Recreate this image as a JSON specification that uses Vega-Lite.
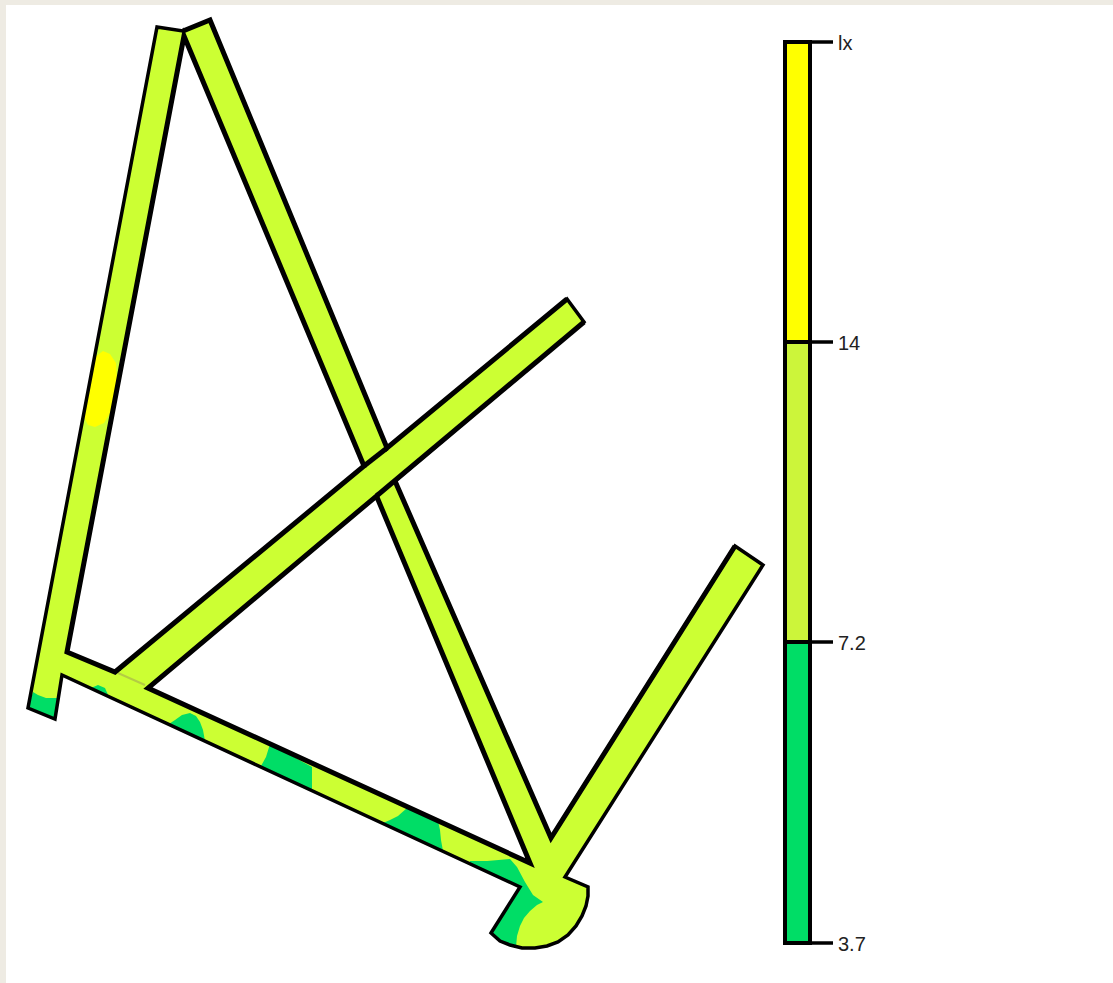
{
"$schema":"https://vega.github.io/schema/vega-lite/v6.json",
"width":1113,"height":983,"padding":0,
"autosize":{"type":"fit","contains":"padding"},
"background":"#eeebe3",
"config":{"view":{"stroke":null}},
"datasets":{
"page":[{"x":6,"x2":1113,"y":5,"y2":983}],
"outer":[
{"i":1,"x":157,"y":27},{"i":2,"x":183,"y":31},{"i":3,"x":210,"y":20},{"i":4,"x":387,"y":448},{"i":5,"x":567,"y":299},{"i":6,"x":584,"y":322},{"i":7,"x":395,"y":481},{"i":8,"x":551,"y":838},{"i":9,"x":735,"y":546},{"i":10,"x":763,"y":565},{"i":11,"x":565,"y":877},{"i":12,"x":588,"y":887},{"i":13,"x":588,"y":896},{"i":14,"x":586,"y":906},{"i":15,"x":582,"y":916},{"i":16,"x":576,"y":926},{"i":17,"x":568,"y":935},{"i":18,"x":558,"y":942},{"i":19,"x":547,"y":946},{"i":20,"x":535,"y":948},{"i":21,"x":522,"y":948},{"i":22,"x":510,"y":945},{"i":23,"x":500,"y":941},{"i":24,"x":491,"y":933},{"i":25,"x":520,"y":887},{"i":26,"x":62,"y":675},{"i":27,"x":55,"y":719},{"i":28,"x":28,"y":708}
],
"holes":[
{"part":"h1","i":1,"x":184,"y":36},{"part":"h1","i":2,"x":364,"y":466},{"part":"h1","i":3,"x":115,"y":672},{"part":"h1","i":4,"x":67,"y":652},
{"part":"h2","i":1,"x":376.5,"y":496},{"part":"h2","i":2,"x":530,"y":863},{"part":"h2","i":3,"x":148,"y":688}
],
"edges":[
{"part":"e1","i":1,"x":183,"y":31},{"part":"e1","i":2,"x":210,"y":20},{"part":"e1","i":3,"x":387,"y":448},{"part":"e1","i":4,"x":567,"y":299},
{"part":"e2","i":1,"x":364,"y":466},{"part":"e2","i":2,"x":387,"y":448},
{"part":"e3","i":1,"x":584,"y":322},{"part":"e3","i":2,"x":376.5,"y":496},
{"part":"e4","i":1,"x":395,"y":481},{"part":"e4","i":2,"x":551,"y":838},{"part":"e4","i":3,"x":735,"y":546}
],
"patches":[
{"part":"p1","band":"low","i":1,"x":33,"y":692},{"part":"p1","band":"low","i":2,"x":38,"y":695},{"part":"p1","band":"low","i":3,"x":46,"y":698},{"part":"p1","band":"low","i":4,"x":57,"y":698},{"part":"p1","band":"low","i":5,"x":55,"y":719},{"part":"p1","band":"low","i":6,"x":28,"y":708},
{"part":"p2","band":"low","i":1,"x":91,"y":688},{"part":"p2","band":"low","i":2,"x":98,"y":685},{"part":"p2","band":"low","i":3,"x":105,"y":688},{"part":"p2","band":"low","i":4,"x":109,"y":697},
{"part":"p3","band":"low","i":1,"x":169,"y":724},{"part":"p3","band":"low","i":2,"x":175,"y":720},{"part":"p3","band":"low","i":3,"x":182,"y":715},{"part":"p3","band":"low","i":4,"x":190,"y":713},{"part":"p3","band":"low","i":5,"x":196,"y":716},{"part":"p3","band":"low","i":6,"x":200,"y":722},{"part":"p3","band":"low","i":7,"x":203,"y":730},{"part":"p3","band":"low","i":8,"x":205,"y":741},
{"part":"p4","band":"low","i":1,"x":270,"y":744},{"part":"p4","band":"low","i":2,"x":266,"y":757},{"part":"p4","band":"low","i":3,"x":261,"y":766},{"part":"p4","band":"low","i":4,"x":312,"y":790},{"part":"p4","band":"low","i":5,"x":312,"y":767},
{"part":"p5","band":"low","i":1,"x":383,"y":823},{"part":"p5","band":"low","i":2,"x":390,"y":820},{"part":"p5","band":"low","i":3,"x":398,"y":816},{"part":"p5","band":"low","i":4,"x":407,"y":808},{"part":"p5","band":"low","i":5,"x":438,"y":821},{"part":"p5","band":"low","i":6,"x":440,"y":830},{"part":"p5","band":"low","i":7,"x":441,"y":840},{"part":"p5","band":"low","i":8,"x":443,"y":851},
{"part":"p6","band":"low","i":1,"x":470,"y":861},{"part":"p6","band":"low","i":2,"x":487,"y":861},{"part":"p6","band":"low","i":3,"x":510,"y":859},{"part":"p6","band":"low","i":4,"x":517,"y":867},{"part":"p6","band":"low","i":5,"x":525,"y":882},{"part":"p6","band":"low","i":6,"x":533,"y":895},{"part":"p6","band":"low","i":7,"x":543,"y":902},{"part":"p6","band":"low","i":8,"x":537,"y":905},{"part":"p6","band":"low","i":9,"x":530,"y":911},{"part":"p6","band":"low","i":10,"x":524,"y":918},{"part":"p6","band":"low","i":11,"x":520,"y":926},{"part":"p6","band":"low","i":12,"x":517,"y":936},{"part":"p6","band":"low","i":13,"x":516,"y":947},{"part":"p6","band":"low","i":14,"x":510,"y":945},{"part":"p6","band":"low","i":15,"x":500,"y":941},{"part":"p6","band":"low","i":16,"x":491,"y":933},{"part":"p6","band":"low","i":17,"x":520,"y":887},{"part":"p6","band":"low","i":18,"x":470,"y":864},
{"part":"p7","band":"high","i":1,"x":103,"y":351},{"part":"p7","band":"high","i":2,"x":110,"y":354},{"part":"p7","band":"high","i":3,"x":116,"y":363},{"part":"p7","band":"high","i":4,"x":117,"y":380},{"part":"p7","band":"high","i":5,"x":114,"y":397},{"part":"p7","band":"high","i":6,"x":110,"y":413},{"part":"p7","band":"high","i":7,"x":104,"y":423},{"part":"p7","band":"high","i":8,"x":95,"y":427},{"part":"p7","band":"high","i":9,"x":88,"y":425},{"part":"p7","band":"high","i":10,"x":84,"y":417},{"part":"p7","band":"high","i":11,"x":87,"y":397},{"part":"p7","band":"high","i":12,"x":92,"y":370},{"part":"p7","band":"high","i":13,"x":95,"y":357}
],
"seam":[{"i":1,"x":118,"y":673},{"i":2,"x":145,"y":685}],
"bar":[
{"band":"high","x":785,"x2":810,"y":42,"y2":342},
{"band":"mid","x":785,"x2":810,"y":342,"y2":642},
{"band":"low","x":785,"x2":810,"y":642,"y2":943}
],
"ticks":[
{"label":"lx","x":785,"x2":833,"y":42},
{"label":"14","x":785,"x2":833,"y":342},
{"label":"7.2","x":785,"x2":833,"y":642},
{"label":"3.7","x":785,"x2":833,"y":943}
]
},
"encoding":{
"x":{"field":"x","type":"quantitative","axis":null,"scale":{"domain":[0,1113],"range":[0,1113],"nice":false,"zero":false}},
"y":{"field":"y","type":"quantitative","axis":null,"scale":{"domain":[0,983],"range":[0,983],"nice":false,"zero":false}}
},
"layer":[
{"data":{"name":"page"},"mark":{"type":"rect","fill":"#ffffff"},"encoding":{"x2":{"field":"x2"},"y2":{"field":"y2"}}},
{"data":{"name":"outer"},"mark":{"type":"line","interpolate":"linear-closed","fill":"#ccff33","stroke":null},"encoding":{"order":{"field":"i"}}},
{"data":{"name":"patches"},"mark":{"type":"line","interpolate":"linear-closed","stroke":null},"encoding":{"order":{"field":"i"},"detail":{"field":"part"},"fill":{"field":"band","type":"nominal","legend":null,"scale":{"domain":["low","mid","high"],"range":["#00dd66","#ccf53a","#ffff00"]}}}},
{"data":{"name":"seam"},"mark":{"type":"line","stroke":"#b4cc44","strokeWidth":2},"encoding":{"order":{"field":"i"}}},
{"data":{"name":"holes"},"mark":{"type":"line","interpolate":"linear-closed","fill":"#ffffff","stroke":"#000000","strokeWidth":5,"strokeJoin":"miter"},"encoding":{"order":{"field":"i"},"detail":{"field":"part"}}},
{"data":{"name":"outer"},"mark":{"type":"line","interpolate":"linear-closed","fill":null,"stroke":"#000000","strokeWidth":3.5,"strokeJoin":"miter"},"encoding":{"order":{"field":"i"}}},
{"data":{"name":"edges"},"mark":{"type":"line","stroke":"#000000","strokeWidth":5,"strokeJoin":"miter"},"encoding":{"order":{"field":"i"},"detail":{"field":"part"}}},
{"data":{"name":"bar"},"mark":{"type":"rect","stroke":"#000000","strokeWidth":4},"encoding":{"x2":{"field":"x2"},"y2":{"field":"y2"},"fill":{"field":"band","type":"nominal","legend":null,"scale":{"domain":["low","mid","high"],"range":["#00dd66","#ccf53a","#ffff00"]}}}},
{"data":{"name":"ticks"},"mark":{"type":"rule","stroke":"#000000","strokeWidth":3.5},"encoding":{"x2":{"field":"x2"}}},
{"data":{"name":"ticks"},"mark":{"type":"text","align":"left","baseline":"middle","dx":5,"dy":1.5,"font":"Liberation Sans","fontSize":20,"fill":"#222222"},"encoding":{"x":{"field":"x2","type":"quantitative"},"text":{"field":"label"}}}
]
}
